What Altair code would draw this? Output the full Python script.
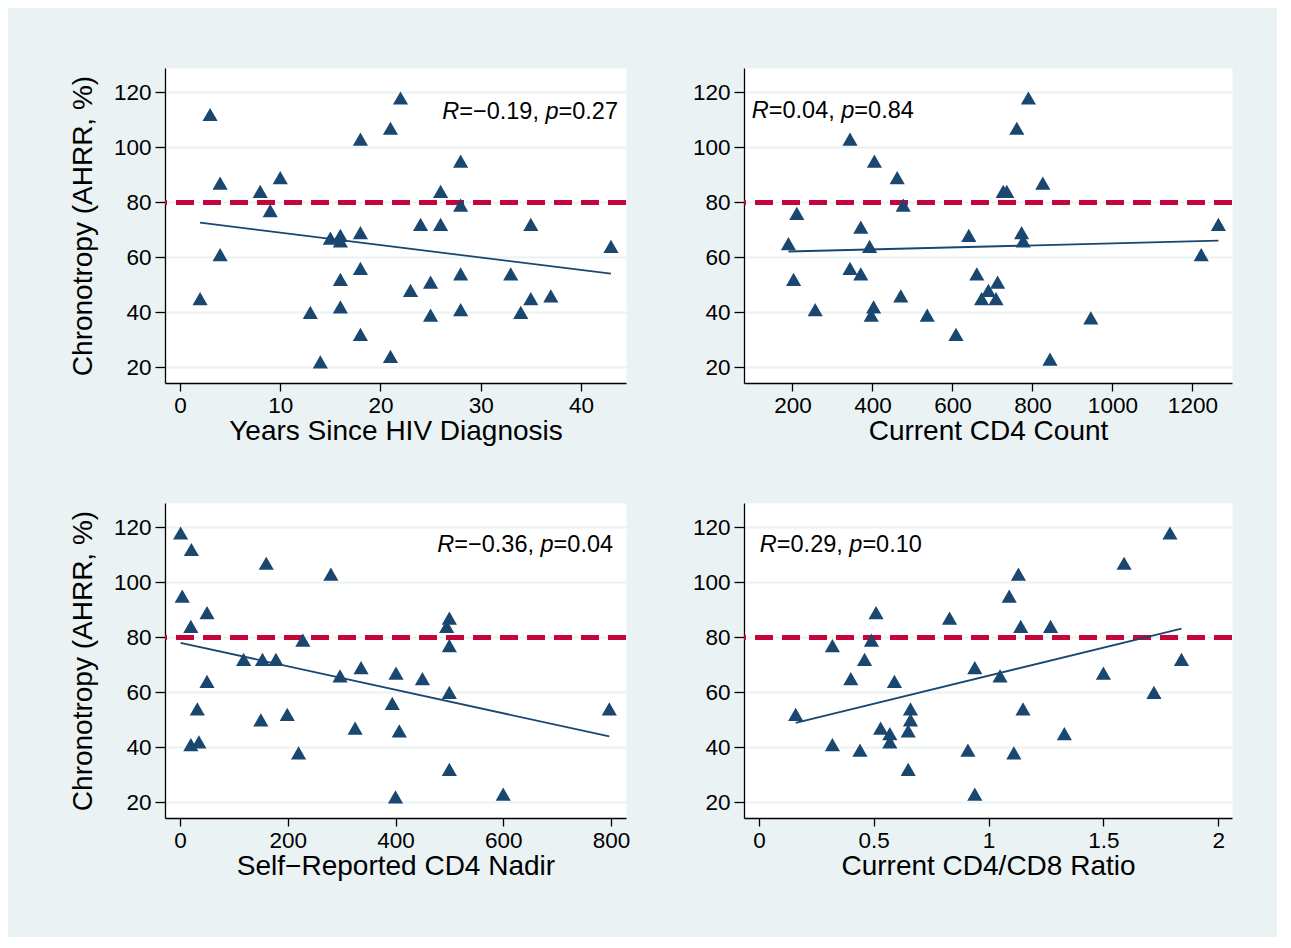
import altair as alt
import pandas as pd

FONT = "Liberation Sans"
NAVY = "#1A476F"
RED = "#C6053A"
LIGHT = "#EAF2F3"

Y_TICKS = [20, 40, 60, 80, 100, 120]
Y_DOMAIN = [14.3, 128.9]
Y_TITLE = "Chronotropy (AHRR, %)"
THRESHOLD = [80]

# Panel 1: Years since HIV diagnosis
years_x = [3, 4, 4, 2, 8, 9, 10, 13, 14, 15, 16, 16, 16, 16, 18, 18, 18, 18, 21, 22, 21,
           23, 24, 25, 25, 26, 26, 28, 28, 28, 28, 33, 34, 35, 35, 37, 43]
years_y = [112, 87, 61, 45, 84, 77, 89, 40, 22, 67, 68, 66, 52, 42, 103, 69, 56, 32, 107, 118, 24,
           48, 72, 51, 39, 84, 72, 95, 79, 54, 41, 54, 40, 72, 45, 46, 64]

# Panel 2: Current CD4 count
cd4_x = [190, 211, 203, 257, 344, 344, 371, 371, 393, 403, 397, 405, 462, 477, 471, 537, 609,
         641, 661, 673, 690, 709, 713, 727, 736, 761, 790, 773, 777, 826, 844, 946, 1222, 1265]
cd4_y = [65, 76, 52, 41, 103, 56, 71, 54, 64, 42, 39, 95, 89, 79, 46, 39, 32,
         68, 54, 45, 48, 45, 51, 84, 84, 107, 118, 69, 66, 87, 23, 38, 61, 72]

# Panel 3: Self-reported CD4 nadir
nadir_x = [1, 21, 4, 20, 50, 50, 32, 20, 35, 160, 280, 118, 153, 178, 150, 199, 220, 228, 297,
           325, 336, 394, 401, 407, 400, 450, 500, 495, 500, 500, 500, 600, 797]
nadir_y = [118, 112, 95, 84, 89, 64, 54, 41, 42, 107, 103, 72, 72, 72, 50, 52, 38, 79, 66,
           47, 69, 56, 67, 46, 22, 65, 87, 84, 77, 60, 32, 23, 54]

# Panel 4: Current CD4/CD8 ratio
ratio_x = [0.16, 0.32, 0.32, 0.40, 0.44, 0.46, 0.49, 0.51, 0.53, 0.57, 0.57, 0.59, 0.66, 0.66,
           0.65, 0.65, 0.83, 0.91, 0.94, 0.94, 1.05, 1.09, 1.13, 1.14, 1.11, 1.15, 1.27, 1.33,
           1.50, 1.59, 1.72, 1.79, 1.84]
ratio_y = [52, 77, 41, 65, 39, 72, 79, 89, 47, 45, 42, 64, 54, 50,
           46, 32, 87, 39, 23, 69, 66, 95, 103, 84, 38, 54, 84, 45,
           67, 107, 60, 118, 72]

x_titles = ["Years Since HIV Diagnosis", "Current CD4 Count",
            "Self\u2212Reported CD4 Nadir", "Current CD4/CD8 Ratio"]
r_values = ["\u22120.19", "0.04", "\u22120.36", "0.29"]
p_values = ["0.27", "0.84", "0.04", "0.10"]

x_domains = [[-1.5, 44.5], [79, 1299], [-28, 828], [-0.065, 2.06]]
x_ticks = [[0, 10, 20, 30, 40], [200, 400, 600, 800, 1000, 1200],
           [0, 200, 400, 600, 800], [0, 0.5, 1, 1.5, 2]]
ann_x = [43.7, 98.5, 804, 0.004]
ann_y = [110.5, 110.6, 111.1, 111.0]
ann_side = ["right", "left", "right", "left"]

ANN_SIZE = 23.5
WIDTHS = {"R": 0.722, "=": 0.584, "\u2212": 0.584, ".": 0.278, ",": 0.278, " ": 0.278, "p": 0.556}


def tw(s):
    return sum(WIDTHS.get(c, 0.556) for c in s) * ANN_SIZE


def panel(i, xs, ys, width, ytitle):
    df = pd.DataFrame({"x": xs, "y": ys})
    xenc = alt.X("x:Q",
                 scale=alt.Scale(domain=x_domains[i], nice=False, zero=False),
                 axis=alt.Axis(values=x_ticks[i], format=".6~g", title=x_titles[i], grid=False,
                               tickSize=8, labelPadding=3, titlePadding=1))
    ykw = dict(values=Y_TICKS, grid=True, gridColor=LIGHT, gridWidth=2,
               tickSize=10, labelPadding=4, titlePadding=16)
    if ytitle:
        yaxis = alt.Axis(title=ytitle, **ykw)
    else:
        yaxis = alt.Axis(title=None, **ykw)
    yenc = alt.Y("y:Q", scale=alt.Scale(domain=Y_DOMAIN, nice=False, zero=False), axis=yaxis)

    thr = alt.Chart(pd.DataFrame({"y": THRESHOLD})).mark_rule(
        color=RED, strokeWidth=5, strokeDash=[18, 9]).encode(y=yenc)
    fit = alt.Chart(df).transform_regression("x", "y").mark_line(
        color=NAVY, strokeWidth=1.8).encode(x=xenc, y=yenc)
    pts = alt.Chart(df).mark_point(
        shape="triangle-up", filled=True, size=230, color=NAVY, opacity=1
    ).encode(x=xenc, y=yenc)

    pieces = [("R", "italic"), ("=" + r_values[i] + ", ", "normal"),
              ("p", "italic"), ("=" + p_values[i], "normal")]
    total = sum(tw(s) for s, _ in pieces)
    off = -total if ann_side[i] == "right" else 0.0
    ann_df = pd.DataFrame({"x": [ann_x[i]], "y": [ann_y[i]]})
    texts = []
    for s, style in pieces:
        texts.append(alt.Chart(ann_df).mark_text(
            text=s, align="left", baseline="alphabetic", dx=off, font=FONT,
            fontSize=ANN_SIZE, fontStyle=style, color="black").encode(x=xenc, y=yenc))
        off += tw(s)
    return alt.layer(thr, fit, pts, *texts).properties(width=width, height=315)


p1 = panel(0, years_x, years_y, 461, Y_TITLE)
p2 = panel(1, cd4_x, cd4_y, 488, None)
p3 = panel(2, nadir_x, nadir_y, 461, Y_TITLE)
p4 = panel(3, ratio_x, ratio_y, 488, None)

chart = alt.concat(
    p1, p2, p3, p4, columns=2, spacing={"row": 120, "column": 118},
    bounds="flush", align="each"
).properties(
    background=LIGHT,
    padding={"left": 60, "top": 59, "right": 42, "bottom": 56}
).configure_view(
    fill="white", stroke="transparent"
).configure_axis(
    domainColor="black", domainWidth=1.3, tickColor="black", tickWidth=1.3,
    labelColor="black", titleColor="black", labelFont=FONT, titleFont=FONT,
    labelFontSize=22.5, titleFontSize=28, titleFontWeight="normal",
    labelFlush=False, labelOverlap=False
)

chart.save("out.html", embed_options={"renderer": "svg", "actions": False})
